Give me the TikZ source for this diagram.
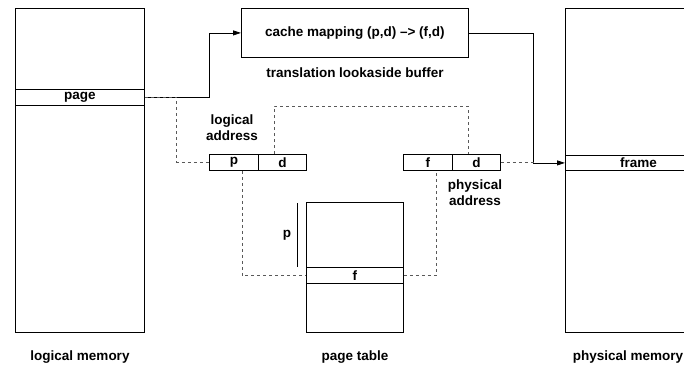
\documentclass[tikz,border=0pt]{standalone}
\usepackage{fontspec}
\setmainfont{Liberation Sans}
\usetikzlibrary{arrows.meta}

\begin{document}
\begin{tikzpicture}[x=1pt,y=-1pt,
  box/.style={draw,line width=0.8pt,inner sep=0pt,anchor=north west},
  lbl/.style={font=\bfseries\fontsize{13.5}{16}\selectfont},
  link/.style={line width=0.8pt},
  dlink/.style={line width=0.8pt,dash pattern=on 3pt off 3pt,black!65}]
\useasboundingbox (0,0) rectangle (684,367);

% memories and the buffer
\node[box,minimum width=129pt,minimum height=324pt] (lmem) at (15,8) {};
\node[box,lbl,minimum width=129pt,minimum height=16pt] (page) at (15,89) {page};
\node[box,minimum width=146pt,minimum height=324pt] (pmem) at (565,8) {};
\node[box,lbl,minimum width=146pt,minimum height=15pt] (frame) at (565,155) {frame};
\node[box,lbl,minimum width=227pt,minimum height=49pt] (tlb) at (241,8) {cache mapping (p,d) --> (f,d)};
\node[lbl] (tlbname) at (355,73) {translation lookaside buffer};

% the two addresses
\node[box,lbl,minimum width=49pt,minimum height=16pt] (lp) at (209,154) {p};
\node[box,lbl,minimum width=48pt,minimum height=16pt] (ld) at (258,154) {d};
\node[lbl,align=center] (laddr) at (232,128) {logical\\address};
\node[box,lbl,minimum width=49pt,minimum height=16pt] (pf) at (403,154) {f};
\node[box,lbl,minimum width=48pt,minimum height=16pt] (pd) at (452,154) {d};
\node[lbl,align=center] (paddr) at (475,193) {physical\\address};

% the page table
\node[box,minimum width=97pt,minimum height=130pt] (ptab) at (306,202) {};
\node[box,lbl,minimum width=97pt,minimum height=16pt] (frow) at (306,267) {f};
\node[lbl] (poff) at (287,235) {p};
\coordinate (ptop) at (297,203);
\coordinate (pbot) at (297,267);
\draw[link] (ptop) -- (pbot);

\node[lbl] (lmemname) at (80,357) {logical memory};
\node[lbl] (ptabname) at (355,357) {page table};
\node[lbl] (pmemname) at (628,357) {physical memory};

% connectors
\draw[link,-{Triangle[length=8pt,width=5pt]}] (page.east) -- ++(65,0) |- (tlb.west);
\draw[link,-{Triangle[length=8pt,width=5pt]}] (tlb.east) -- ++(65,0) |- (frame.west);
\draw[dlink] (page.east) -- ++(32,0) |- (lp.west);
\draw[dlink] ([xshift=-8pt]ld.north) -- ++(0,-48) -| ([xshift=-8pt]pd.north);
\draw[dlink] ([xshift=8pt]lp.south) |- (frow.west);
\draw[dlink] (frow.east) -| ([xshift=8pt]pf.south);
\draw[dlink] (pd.east) -- ++(33,0);
\end{tikzpicture}
\end{document}
